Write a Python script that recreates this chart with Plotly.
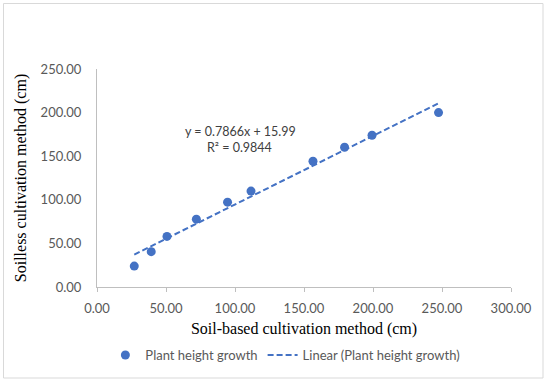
import plotly.graph_objects as go

# Data
soil_based = [27.0, 39.3, 50.7, 72.0, 94.6, 111.6, 156.5, 179.4, 199.3, 247.5]
soilless = [24.0, 40.5, 58.0, 77.8, 97.3, 110.0, 144.2, 160.3, 174.0, 200.0]

# Trendline from the equation shown on the chart
slope = 0.7866
intercept = 15.99
r_squared = 0.9844

x_ticks = [0, 50, 100, 150, 200, 250, 300]
y_ticks = [0, 50, 100, 150, 200, 250]

trend_x = [min(soil_based), max(soil_based)]
trend_y = [slope * v + intercept for v in trend_x]

blue = "#4472C4"

fig = go.Figure()
fig.add_trace(go.Scatter(
    x=soil_based, y=soilless, mode="markers",
    name="Plant height growth",
    marker=dict(color=blue, size=9),
))
fig.add_trace(go.Scatter(
    x=trend_x, y=trend_y, mode="lines",
    name="Linear (Plant height growth)",
    line=dict(color=blue, width=2, dash="6px,3px"),
))

fig.add_annotation(x=103.8, y=178.2, text=f"y = {slope}x + {intercept}",
                   showarrow=False, font=dict(family="Lato", size=12.5, color="#404040"))
fig.add_annotation(x=103.5, y=160.0, text=f"R² = {r_squared}",
                   showarrow=False, font=dict(family="Lato", size=12.5, color="#404040"))

# outer border
fig.add_shape(type="rect", xref="paper", yref="paper",
              x0=(3.5 - 97) / 414, x1=(543 - 97) / 414,
              y0=(287 - 378) / 218, y1=(287 - 3.5) / 218,
              line=dict(color="#d9d9d9", width=1), fillcolor="rgba(0,0,0,0)", layer="below")

fig.update_layout(
    width=550, height=383,
    margin=dict(l=97, r=39, t=69, b=96),
    paper_bgcolor="white", plot_bgcolor="white",
    showlegend=True,
    legend=dict(orientation="h", x=0.455, y=-0.312, xanchor="center", yanchor="middle",
                font=dict(family="Lato", size=13, color="#595959"),
                bgcolor="rgba(0,0,0,0)", tracegroupgap=0),
    xaxis=dict(
        range=[0, 300], tickvals=x_ticks,
        ticktext=[f"{v:.2f}" for v in x_ticks],
        showgrid=False, zeroline=False,
        showline=True, linecolor="#bfbfbf", linewidth=1,
        ticks="outside", ticklen=4, tickcolor="#bfbfbf",
        ticklabelstandoff=5,
        tickfont=dict(family="Lato", size=13, color="#595959"),
        title=dict(text="Soil-based cultivation method (cm)", standoff=8,
                   font=dict(family="Liberation Serif", size=16, color="black")),
    ),
    yaxis=dict(
        range=[0, 250], tickvals=y_ticks,
        ticktext=[f"{v:.2f}" for v in y_ticks],
        showgrid=False, zeroline=False,
        showline=True, linecolor="#bfbfbf", linewidth=1,
        ticks="", ticklabelstandoff=12,
        tickfont=dict(family="Lato", size=13, color="#595959"),
        title=dict(text="Soilless cultivation method (cm)", standoff=10,
                   font=dict(family="Liberation Serif", size=16, color="black")),
    ),
)

fig.write_html("out.html", config={"displayModeBar": False},
               post_script="document.body.style.margin='0';")
